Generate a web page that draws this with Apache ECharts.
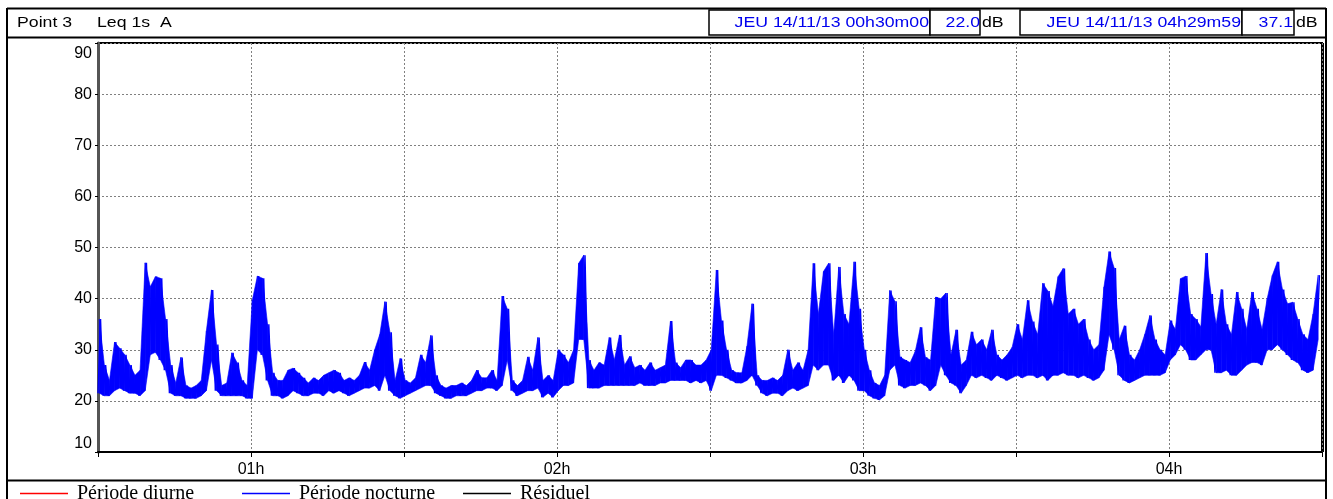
<!DOCTYPE html>
<html>
<head>
<meta charset="utf-8">
<title>Point 3 Leq 1s A</title>
<script src="https://cdn.jsdelivr.net/npm/echarts@6/dist/echarts.min.js"></script>
<style>
  html,body{margin:0;padding:0;background:#fff;}
  #chart{width:1333px;height:499px;}
</style>
</head>
<body>
<div id="chart"></div>
<script>
// temps en minutes depuis minuit, 1 min = min/max
const startMin = 30
const lowVals = [
  21.5,21,21,22,22.5,22,21.5,21.5,21,22,
  29,29.5,28,26,21.5,21,21,20.5,20.5,20.5,
  21,22,28,22,21,21,21,21,21,20.5,
  20.5,30,29,24,21,21,20.5,21,22,21.5,
  21,21,21.5,21.5,21,22,21.5,22,21.5,21,
  21.5,22,22.5,22.5,23,22,25,22,21,20.5,
  21,21.5,22,22.5,23,23,21.5,21,20.5,20.5,
  21,21,21,21.5,22,22,22.5,22.5,22,23,
  28,22,21,21.5,22,22,22.5,20.7,21.5,20.7,
  22,23,23,23.5,32,32,22.5,22.5,22.5,23,
  23,23,23,23,23,23,23.5,23,23,23,
  23.5,23.5,24,24,24,24,23.5,24,23.5,24,
  22,25,25,24.5,24,23.5,23.5,24,25,23,
  21.5,21,21.5,21.5,21,22,22.5,22,22.5,23,
  27,26,27,27,24,25,23.5,25,24,22,
  22,21,20.5,20.2,21,26,27,23,22.5,23,
  23,23.5,23,22,23,27,25,23.5,23,21.5,
  23,25,24.5,25,24.5,24,25,24.5,24,24.5,
  25,24.5,25,25,24.5,25,24,25,25,25.5,
  25,25,24.5,25,24.5,24,24.5,26,33,30,
  25,24,23.5,24,24.5,25,25,25,25,25.5,
  28,29,31,30,28,28,29,30,30,25.5,
  25.5,26,25,25,26,27,27.5,27.5,27,30,
  30,31,30,29,28,27.5,26,25.5,26,32
]
const highVals = [
  36,27,24,31.5,30.3,29,27,25,26,47,
  42.3,44.3,44,36,27,23.5,28.5,23,22.5,23,
  24,33.7,41.7,31,23,23.5,29.4,27.5,24,23,
  39.7,44.4,44,35,25.5,24,24,26,26.4,25.5,
  24.5,23.5,24.5,24,25,25.5,26,25.5,24,24.5,
  24,25,27.6,26,30,33,39.4,33.4,24,28.3,
  24,23.5,24.5,29,27.5,32.8,25,23,22.5,23,
  23,23.5,23,24,26,24.5,24.5,26,24,40.5,
  38,24,23,24,28.6,26,32.4,24,25,24,
  30,29,27.5,30,46.9,48.5,28,26,27.5,27,
  32.4,28,32.9,27,28.7,26.5,27,26,27.5,26,
  26.5,27,35.6,27.5,26.5,28,28,27,27,28,
  30,45.6,35.7,30,26,25.5,25.5,30.7,39,25,
  24,24,24.5,24,25,30,26,27.5,26,30,
  46.9,37,45.3,46.9,33,46.2,37,35,47.2,38,
  30,26,23.5,23,25,41.6,39.5,28.6,28,27.5,
  29.7,34.4,28.5,28,40.3,40,41.1,29,33.9,27,
  28,33.5,31,32,30,33.9,29,28,29,30.5,
  35,32,39.7,35.5,33,43,41.5,38.5,44.3,45.9,
  37,38,35,36,32,30,31,42.3,49.2,46,
  32,34.7,29,28,30,33,36.7,32,30,29,
  35.7,34,43.9,44.4,37,36,34.5,48.9,40.9,35,
  41.8,35,33,41.3,38,34,41.3,38,34,40,
  44.5,47.2,41.8,39,39.3,36,33,32,37,44.6
]
const hourTicks = [60,120,180,240]
const hourLabels = ['01h','02h','03h','04h']
const cursorDates = ['JEU 14/11/13 00h30m00','JEU 14/11/13 04h29m59']
const cursorValues = ['22.0','37.1']
const seriesNames = ['Période diurne','Période nocturne','Résiduel']
const seriesColors = ['#ff0000','#0000ff','#000000']

// trace en dents de scie min -> max pour chaque minute
let lineData = []
lowVals.forEach((v,i)=>{
  lineData.push([startMin+i, v])
  lineData.push([startMin+i+0.5, highVals[i]])
})
// bande pleine entre min et max : [t, min, max]
const bandData = lowVals.map((v,i)=>[startMin+i+0.25, v, highVals[i]])

function renderBand(params, api){
  let i = params.dataIndexInside
  if (i >= params.dataInsideLength - 1) return
  let pts = [
    api.coord([api.value(0,i), api.value(1,i)]),
    api.coord([api.value(0,i), api.value(2,i)]),
    api.coord([api.value(0,i+1), api.value(2,i+1)]),
    api.coord([api.value(0,i+1), api.value(1,i+1)])
  ]
  return {type:'polygon', shape:{points:pts}, style:{fill:seriesColors[1], stroke:seriesColors[1], lineWidth:0.6}}
}

const gridLine = {show:true, lineStyle:{color:'#808080', type:[2,2], width:1}}
const sans = '"Liberation Sans", Arial, sans-serif'
const serif = '"Liberation Serif", "Times New Roman", serif'

function hLine(x1,x2,y,w){
  return {type:'line', silent:true, shape:{x1:x1,y1:y,x2:x2,y2:y}, style:{stroke:'#000', lineWidth:w||1}}
}
function vLine(x,y1,y2,w){
  return {type:'line', silent:true, shape:{x1:x,y1:y1,x2:x,y2:y2}, style:{stroke:'#000', lineWidth:w||1}}
}
function box(x,y,w,h){
  return {type:'rect', silent:true, shape:{x:x,y:y,width:w,height:h}, style:{fill:'#fff', stroke:'#000', lineWidth:1.5}}
}
function label(txt,x,y,color,align,font,size,sx){
  return {type:'text', silent:true, x:x, y:y, scaleX:sx||1.22,
    style:{text:txt, fill:color, align:align, verticalAlign:'middle', fontFamily:font, fontSize:size}}
}

// cadre, entete et legende
let elements = [
  hLine(7,1326,8.5,2),
  hLine(7,1326,37.5,2),
  hLine(7,1326,480.5,2),
  vLine(7,8,499,2),
  vLine(1326,8,499,2),
  vLine(1323.5,43,452,1),
  box(709,10,221,25),
  box(930,10,50,25),
  box(1020,10,222,25),
  box(1242,10,52,25),
  label('Point 3',17,23,'#000','left',sans,14.5),
  label('Leq 1s  A',97,23,'#000','left',sans,14.5),
  label(cursorDates[0],929,23,'#0000ee','right',sans,14.5),
  label(cursorValues[0],980,23,'#0000ee','right',sans,14.5),
  label('dB',982,23,'#000','left',sans,14.5),
  label(cursorDates[1],1241,23,'#0000ee','right',sans,14.5),
  label(cursorValues[1],1293,23,'#0000ee','right',sans,14.5),
  label('dB',1296,23,'#000','left',sans,14.5)
]
const legendX = [20,242,463]
seriesNames.forEach((n,i)=>{
  let x = legendX[i]
  elements.push({type:'line', silent:true, z:10, shape:{x1:x,y1:493.5,x2:x+48,y2:493.5}, style:{stroke:seriesColors[i], lineWidth:1.5}})
  elements.push(label(n,x+57,494,'#000','left',serif,20,1))
})

const chart = echarts.init(document.getElementById('chart'))
chart.setOption({
  animation:false,
  backgroundColor:'#fff',
  grid:{left:98, right:11, top:43, bottom:47, show:true, borderColor:'#000', borderWidth:2, containLabel:false},
  xAxis:{
    type:'value', min:30, max:270, interval:30,
    axisLine:{show:true, lineStyle:{color:'#000', width:2}},
    axisTick:{show:true, length:5, lineStyle:{color:'#000', width:1}},
    axisLabel:{
      color:'#000', fontSize:16, fontFamily:sans, margin:10,
      formatter:v=>{
        let k = hourTicks.indexOf(v)
        return k>=0 ? hourLabels[k] : ''
      }
    },
    splitLine:gridLine
  },
  yAxis:{
    type:'value', min:10, max:90, interval:10,
    axisLine:{show:true, lineStyle:{color:'#555', width:3}},
    axisTick:{show:true, length:3, lineStyle:{color:'#000'}},
    axisLabel:{color:'#000', fontSize:16, fontFamily:sans, margin:6,
      verticalAlignMinLabel:'bottom', verticalAlignMaxLabel:'top', padding:[3,0,0,0]},
    splitLine:gridLine
  },
  series:[
    {
      type:'custom', data:bandData, renderItem:renderBand,
      encode:{x:0, y:[1,2]}, silent:true, clip:true, z:2
    },
    {
      name:seriesNames[1],
      type:'line',
      data:lineData,
      showSymbol:false,
      clip:true,
      lineStyle:{color:seriesColors[1], width:1.4},
      z:3
    }
  ],
  graphic:{elements:elements}
})
</script>
</body>
</html>
